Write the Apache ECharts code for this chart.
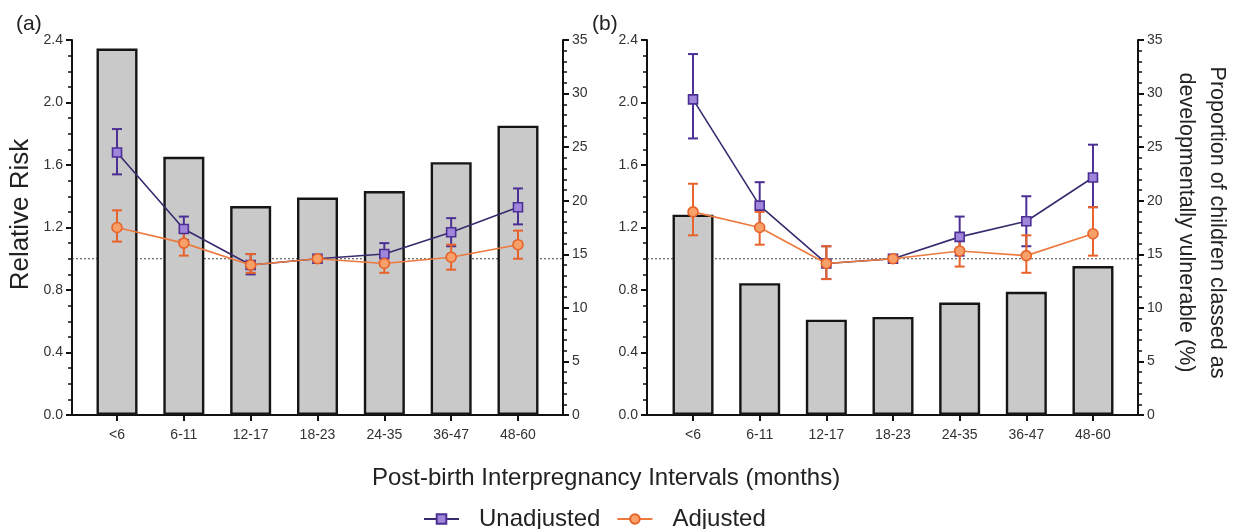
<!DOCTYPE html>
<html>
<head>
<meta charset="utf-8">
<script src="https://cdn.jsdelivr.net/npm/echarts@6/dist/echarts.min.js"></script>
<style>
html,body{margin:0;padding:0;background:#fff;}
#chart{width:1241px;height:529px;}
</style>
</head>
<body>
<div id="chart"></div>
<script>
// ---- data ----
const categories = ['<6', '6-11', '12-17', '18-23', '24-35', '36-47', '48-60'];
const propA = [34.2, 24.1, 19.5, 20.3, 20.9, 23.6, 27.0];
const propB = [18.7, 12.3, 8.9, 9.15, 10.5, 11.5, 13.9];

const unadjA = [1.68, 1.19, 0.96, 1.00, 1.03, 1.17, 1.33];
const unadjALow = [1.54, 1.12, 0.90, 1.00, 0.96, 1.08, 1.22];
const unadjAHigh = [1.83, 1.27, 1.03, 1.00, 1.10, 1.26, 1.45];
const adjA = [1.20, 1.10, 0.96, 1.00, 0.97, 1.01, 1.09];
const adjALow = [1.11, 1.02, 0.91, 1.00, 0.91, 0.93, 1.00];
const adjAHigh = [1.31, 1.17, 1.03, 1.00, 1.03, 1.09, 1.18];

const unadjB = [2.02, 1.34, 0.97, 1.00, 1.14, 1.24, 1.52];
const unadjBLow = [1.77, 1.20, 0.87, 1.00, 1.02, 1.08, 1.33];
const unadjBHigh = [2.31, 1.49, 1.08, 1.00, 1.27, 1.40, 1.73];
const adjB = [1.30, 1.20, 0.97, 1.00, 1.05, 1.02, 1.16];
const adjBLow = [1.15, 1.09, 0.87, 1.00, 0.95, 0.91, 1.02];
const adjBHigh = [1.48, 1.30, 1.08, 1.00, 1.15, 1.15, 1.33];

const rrTicks = {min: 0, max: 2.4, interval: 0.4};
const pctTicks = {min: 0, max: 35, interval: 5};
const refValue = 1.0;

// ---- styles ----
const FONT = '"Liberation Sans", Arial, Helvetica, sans-serif';
const PURPLE_LINE = '#3a2a6e';
const PURPLE_FILL = '#9f86da';
const PURPLE_EDGE = '#4c2f95';
const ORANGE_LINE = '#ec7a3e';
const ORANGE_FILL = '#f7a06a';
const ORANGE_EDGE = '#e8632a';

const chart = echarts.init(document.getElementById('chart'), null, {renderer: 'canvas'});

function outerX(gi) {
  return {gridIndex: gi, type: 'value', min: 0, max: 1,
    axisLine: {show: true, onZero: false, lineStyle: {color: '#111', width: 2}},
    axisTick: {show: false}, axisLabel: {show: false}, splitLine: {show: false}};
}
function innerX(gi) {
  return {gridIndex: gi, type: 'category', data: categories, boundaryGap: true,
    axisLine: {show: false},
    axisTick: {show: true, alignWithLabel: true, length: 6, lineStyle: {color: '#111', width: 2}},
    axisLabel: {fontSize: 14, color: '#333', fontFamily: FONT, margin: 13},
    splitLine: {show: false}};
}
function rrAxis(gi, show, extra) {
  return Object.assign({gridIndex: gi, type: 'value', position: 'left', show: show,
    min: rrTicks.min, max: rrTicks.max, interval: rrTicks.interval,
    axisLine: {show: true, lineStyle: {color: '#111', width: 2}},
    axisTick: {show: true, length: 6, lineStyle: {color: '#111', width: 2}},
    minorTick: {show: true, splitNumber: 4, length: 4, lineStyle: {color: '#111', width: 1.5}},
    axisLabel: {fontSize: 14, color: '#333', fontFamily: FONT, margin: 9,
      formatter: v => v.toFixed(1)},
    splitLine: {show: false}}, extra || {});
}
function pctAxis(gi, show, extra) {
  return Object.assign({gridIndex: gi, type: 'value', position: 'right', show: show,
    min: pctTicks.min, max: pctTicks.max, interval: pctTicks.interval,
    axisLine: {show: true, lineStyle: {color: '#111', width: 2}},
    axisTick: {show: true, length: 6, lineStyle: {color: '#111', width: 2}},
    minorTick: {show: true, splitNumber: 5, length: 4, lineStyle: {color: '#111', width: 1.5}},
    axisLabel: {fontSize: 14, color: '#333', fontFamily: FONT, margin: 9},
    splitLine: {show: false}}, extra || {});
}

function errSeries(xi, yi, lo, hi, color) {
  return {type: 'custom', xAxisIndex: xi, yAxisIndex: yi, z: 3, silent: true,
    data: categories.map((c, i) => [i, lo[i], hi[i]]),
    encode: {x: 0, y: [1, 2]},
    renderItem: function (params, api) {
      const lowV = api.value(1), highV = api.value(2);
      if (lowV === highV) return null;
      const pl = api.coord([api.value(0), lowV]);
      const ph = api.coord([api.value(0), highV]);
      const w = 5;
      const st = {stroke: color, lineWidth: 2};
      return {type: 'group', children: [
        {type: 'line', shape: {x1: pl[0], y1: pl[1], x2: ph[0], y2: ph[1]}, style: st},
        {type: 'line', shape: {x1: pl[0] - w, y1: pl[1], x2: pl[0] + w, y2: pl[1]}, style: st},
        {type: 'line', shape: {x1: ph[0] - w, y1: ph[1], x2: ph[0] + w, y2: ph[1]}, style: st}
      ]};
    }};
}
function unadjLine(xi, yi, data) {
  return {name: 'Unadjusted', type: 'line', xAxisIndex: xi, yAxisIndex: yi, z: 4,
    data: data, symbol: 'rect', symbolSize: 9,
    lineStyle: {color: PURPLE_LINE, width: 1.6},
    itemStyle: {color: PURPLE_FILL, borderColor: PURPLE_EDGE, borderWidth: 1.6}};
}
function adjLine(xi, yi, data) {
  return {name: 'Adjusted', type: 'line', xAxisIndex: xi, yAxisIndex: yi, z: 5,
    data: data, symbol: 'circle', symbolSize: 10,
    lineStyle: {color: ORANGE_LINE, width: 1.6},
    itemStyle: {color: ORANGE_FILL, borderColor: ORANGE_EDGE, borderWidth: 1.6}};
}
function barSeries(xi, yi, data) {
  return {type: 'bar', xAxisIndex: xi, yAxisIndex: yi, z: 1, data: data, barWidth: 41,
    silent: true,
    itemStyle: {color: '#c9c9c9', borderColor: '#151515', borderWidth: 2.4}};
}
function refSeries(xi, yi) {
  return {type: 'line', xAxisIndex: xi, yAxisIndex: yi, z: 0, silent: true,
    data: [[0, refValue], [1, refValue]], symbol: 'none',
    lineStyle: {color: '#444', width: 1.2, type: [2, 2]}};
}

const option = {
  animation: false,
  backgroundColor: '#fff',
  textStyle: {fontFamily: FONT},
  title: [
    {text: '(a)', left: 11, top: 9, textStyle: {fontSize: 21, fontWeight: 'normal', color: '#222', fontFamily: FONT}},
    {text: '(b)', left: 587, top: 9, textStyle: {fontSize: 21, fontWeight: 'normal', color: '#222', fontFamily: FONT}},
    {text: 'Post-birth Interpregnancy Intervals (months)', left: 367, top: 461,
      textStyle: {fontSize: 24, fontWeight: 'normal', color: '#222', fontFamily: FONT}}
  ],
  legend: {
    data: ['Unadjusted', 'Adjusted'], left: 418, top: 502,
    itemWidth: 35, itemHeight: 12, itemGap: 16,
    textStyle: {fontSize: 24, color: '#222', fontFamily: FONT, padding: [0, 0, 0, 15]}
  },
  grid: [
    {left: 72, top: 40, width: 491, height: 375},
    {left: 83.6, top: 40, width: 467.8, height: 375},
    {left: 647, top: 40, width: 491, height: 375},
    {left: 659.7, top: 40, width: 466.6, height: 375}
  ],
  xAxis: [outerX(0), innerX(1), outerX(2), innerX(3)],
  yAxis: [
    rrAxis(0, true, {name: 'Relative Risk', nameLocation: 'middle', nameGap: 38,
      nameTextStyle: {fontSize: 26, color: '#222', fontFamily: FONT, padding: [0, 0, 0, 26]}}),
    pctAxis(0, true),
    rrAxis(1, false),
    pctAxis(1, false),
    rrAxis(2, true),
    pctAxis(2, true, {name: 'Proportion of children classed as\ndevelopmentally vulnerable (%)',
      nameLocation: 'middle', nameGap: 32, nameRotate: -90,
      nameTextStyle: {fontSize: 21.5, color: '#222', fontFamily: FONT, lineHeight: 31,
        padding: [0, 10, 0, 0]}}),
    rrAxis(3, false),
    pctAxis(3, false)
  ],
  series: [
    refSeries(0, 0),
    barSeries(1, 3, propA),
    errSeries(1, 2, unadjALow, unadjAHigh, PURPLE_EDGE),
    errSeries(1, 2, adjALow, adjAHigh, ORANGE_EDGE),
    unadjLine(1, 2, unadjA),
    adjLine(1, 2, adjA),

    refSeries(2, 4),
    barSeries(3, 7, propB),
    errSeries(3, 6, unadjBLow, unadjBHigh, PURPLE_EDGE),
    errSeries(3, 6, adjBLow, adjBHigh, ORANGE_EDGE),
    unadjLine(3, 6, unadjB),
    adjLine(3, 6, adjB)
  ]
};
chart.setOption(option);
</script>
</body>
</html>
